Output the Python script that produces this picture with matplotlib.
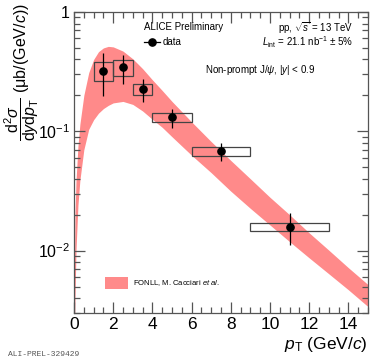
import matplotlib
matplotlib.use("Agg")
import matplotlib.pyplot as plt
from matplotlib.patches import Rectangle
from matplotlib.lines import Line2D
from matplotlib.ticker import FixedLocator, FixedFormatter, MultipleLocator, LogLocator, NullFormatter

plt.rcParams["font.family"] = ["Liberation Sans", "DejaVu Sans"]
plt.rcParams["mathtext.fontset"] = "custom"
plt.rcParams["mathtext.rm"] = "Liberation Sans"
plt.rcParams["mathtext.it"] = "Liberation Sans:italic"
plt.rcParams["mathtext.bf"] = "Liberation Sans:bold"

# Measured non-prompt J/psi cross section
pt = [1.5, 2.5, 3.5, 5.0, 7.5, 11.0]
pt_lo = [1.0, 2.0, 3.0, 4.0, 6.0, 9.0]
pt_hi = [2.0, 3.0, 4.0, 6.0, 9.0, 13.0]
xsec = [0.323, 0.344, 0.225, 0.131, 0.0678, 0.0158]
stat = [0.126, 0.093, 0.048, 0.024, 0.0115, 0.0047]
syst = [0.059, 0.053, 0.025, 0.0105, 0.006, 0.00115]

# FONLL prediction band
fonll_pt = [0.015, 0.05, 0.1, 0.2, 0.3, 0.5, 0.75, 1.0, 1.25, 1.5, 1.75, 2.0, 2.5,
            3.0, 3.5, 4.0, 4.5, 5.0, 6.0, 7.0, 8.0, 9.0, 10.0, 11.0, 12.0, 13.0,
            14.0, 15.0]
fonll_hi = [0.006, 0.02, 0.038, 0.075, 0.115, 0.20, 0.31, 0.40, 0.465, 0.50, 0.515,
            0.51, 0.47, 0.405, 0.335, 0.27, 0.22, 0.178, 0.12, 0.082, 0.057, 0.040,
            0.028, 0.020, 0.0141, 0.0101, 0.0072, 0.0052]
fonll_lo = [0.0018, 0.004, 0.01, 0.024, 0.039, 0.07, 0.104, 0.125, 0.142, 0.155,
            0.165, 0.173, 0.178, 0.168, 0.148, 0.126, 0.108, 0.09, 0.063, 0.045,
            0.0315, 0.0226, 0.0164, 0.0119, 0.0087, 0.0064, 0.0047, 0.0034]

y_ticks = [0.01, 0.1, 1.0]
y_tick_labels = [r"$10^{-2}$", r"$10^{-1}$", "1"]

band_color = "#ff8a8a"
frame_color = "#555555"

fig = plt.figure(figsize=(3.72, 3.58), dpi=100)
ax = fig.add_axes([0.199, 0.1257, 0.790, 0.8408])

ax.fill_between(fonll_pt, fonll_lo, fonll_hi, color=band_color, lw=0, zorder=1)

for lo, hi, y, s in zip(pt_lo, pt_hi, xsec, syst):
    ax.add_patch(Rectangle((lo, y - s), hi - lo, 2 * s, fill=False,
                           edgecolor="#444444", lw=0.9, zorder=3))

ax.errorbar(pt, xsec, yerr=stat, fmt="o", color="black", ms=5.2, elinewidth=0.9,
            capsize=0, zorder=4)

ax.set_yscale("log")
ax.set_xlim(0, 15)
ax.set_ylim(0.003, 1.0)

ax.xaxis.set_major_locator(MultipleLocator(2))
ax.xaxis.set_minor_locator(MultipleLocator(0.5))
ax.yaxis.set_major_locator(FixedLocator(y_ticks))
ax.yaxis.set_major_formatter(FixedFormatter(y_tick_labels))
ax.yaxis.set_minor_locator(LogLocator(base=10, subs=range(2, 10)))
ax.yaxis.set_minor_formatter(NullFormatter())

ax.tick_params(which="both", direction="in", top=True, right=True,
               color=frame_color, width=0.9, pad=3)
ax.tick_params(axis="x", labelsize=12.5)
ax.tick_params(axis="y", labelsize=11.5)
ax.tick_params(which="major", length=8)
ax.tick_params(which="minor", length=4.5)
for sp in ax.spines.values():
    sp.set_color(frame_color)
    sp.set_linewidth(0.9)

ax.text(1.0, -0.105, r"$p_{\mathrm{T}}$ (GeV/$c$)", transform=ax.transAxes,
        ha="right", va="center", fontsize=12.5)

fig.text(0.057, 0.992, r"$\dfrac{\mathrm{d}^2\sigma}{\mathrm{d}y\mathrm{d}p_{\mathrm{T}}}$ (μb/(GeV/$c$))",
         rotation=90, ha="center", va="top", fontsize=11.5)

ax.text(0.238, 0.950, "ALICE Preliminary", transform=ax.transAxes,
        ha="left", va="center", fontsize=7)
ax.add_line(Line2D([0.238, 0.293], [0.900, 0.900], transform=ax.transAxes,
                   color="black", lw=0.9))
ax.add_line(Line2D([0.265], [0.900], transform=ax.transAxes, marker="o",
                   color="black", ms=5.2))
ax.text(0.303, 0.900, "data", transform=ax.transAxes, ha="left", va="center",
        fontsize=7)

ax.text(0.952, 0.947, r"pp, $\sqrt{s}$ = 13 TeV", transform=ax.transAxes,
        ha="right", va="center", fontsize=7)
ax.text(0.952, 0.900, r"$L_{\mathrm{int}}$ = 21.1 nb$^{-1}$ ± 5%",
        transform=ax.transAxes, ha="right", va="center", fontsize=7)
ax.text(0.446, 0.807, r"Non-prompt J/$\psi$, |$y$| < 0.9", transform=ax.transAxes,
        ha="left", va="center", fontsize=7)

ax.add_patch(Rectangle((0.105, 0.08), 0.079, 0.04, transform=ax.transAxes,
                       facecolor=band_color, lw=0, zorder=5))
ax.text(0.201, 0.0997, r"FONLL, M. Cacciari $et$ $al.$", transform=ax.transAxes,
        ha="left", va="center", fontsize=5.5)

fig.text(0.022, 1 - 354 / 358, "ALI-PREL-329429", ha="left", va="center",
         fontsize=5.8, family="Liberation Mono", color="#555555")

fig.savefig("out.png", dpi=100)
